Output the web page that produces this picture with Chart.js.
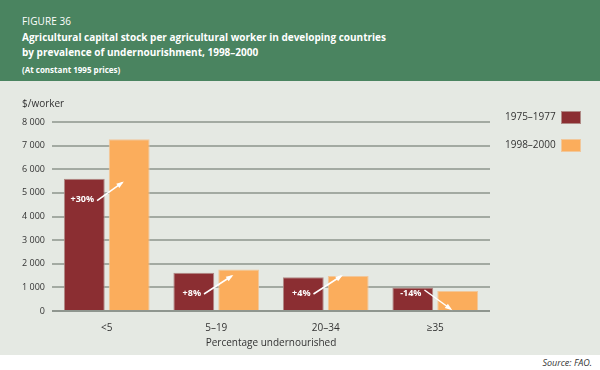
<!DOCTYPE html>
<html>
<head>
<meta charset="utf-8">
<script src="https://cdn.jsdelivr.net/npm/chart.js@4/dist/chart.umd.min.js"></script>
<style>
  body { margin: 0; width: 600px; height: 370px; background: #fff; font-family: "Open Sans", "DejaVu Sans", sans-serif; overflow: hidden; position: relative; }
  #header { position: absolute; left: 0; top: 0; width: 600px; height: 81px; background: #4a8460; color: #fff; }
  #header div { position: absolute; left: 22px; white-space: nowrap; }
  #fig { top: 14px; font-size: 10px; letter-spacing: 0.1px; }
  #t1 { top: 30px; font-size: 10px; font-weight: bold; }
  #t2 { top: 45px; font-size: 10px; font-weight: bold; }
  #sub { top: 64px; font-size: 8px; font-weight: bold; }
  #plot { position: absolute; left: 0; top: 81px; width: 600px; height: 274px; background: #e5e9e3; }
  #source { position: absolute; right: 8px; top: 356px; font-size: 9px; font-style: italic; color: #333; }
</style>
</head>
<body>
<div id="header">
  <div id="fig">FIGURE 36</div>
  <div id="t1">Agricultural capital stock per agricultural worker in developing countries</div>
  <div id="t2">by prevalence of undernourishment, 1998–2000</div>
  <div id="sub">(At constant 1995 prices)</div>
</div>
<div id="plot"><canvas id="chart" width="600" height="274"></canvas></div>
<div id="source">Source: FAO.</div>
<script>
const categories = ["<5", "5–19", "20–34", "≥35"];
const seriesNames = ["1975–1977", "1998–2000"];
const values1975 = [5600, 1620, 1430, 990];
const values1998 = [7270, 1760, 1480, 850];
const changeLabels = ["+30%", "+8%", "+4%", "-14%"];
const yTicks = [0, 1000, 2000, 3000, 4000, 5000, 6000, 7000, 8000];

const colors = ["#8b2e32", "#fbad5c"];
const borders = ["#b08a86", "#f1c79a"];

function fmt(v) {
    return String(v).replace(/\B(?=(\d{3})+(?!\d))/g, " ");
}

const extras = {
    id: "extras",
    afterDraw(chart) {
        const ctx = chart.ctx;
        ctx.save();
        // axis unit
        ctx.fillStyle = "#333";
        ctx.font = "10px 'Open Sans', sans-serif";
        ctx.textBaseline = "middle";
        ctx.textAlign = "left";
        ctx.fillText("$/worker", 22, 23);

        // legend
        seriesNames.forEach((name, i) => {
            const y = 36 + i * 28;
            ctx.fillStyle = "#333";
            ctx.font = "10px 'Open Sans', sans-serif";
            ctx.fillText(name, 505, y);
            ctx.fillStyle = colors[i];
            ctx.fillRect(561, y - 6, 20, 13);
            ctx.strokeStyle = borders[i];
            ctx.lineWidth = 1;
            ctx.strokeRect(561.5, y - 5.5, 19, 12);
        });

        // change arrows
        const m0 = chart.getDatasetMeta(0).data;
        const m1 = chart.getDatasetMeta(1).data;
        ctx.font = "bold 9px 'Open Sans', sans-serif";
        categories.forEach((c, i) => {
            const b0 = m0[i], b1 = m1[i];
            const ly = Math.min(b0.y + 21, b0.base - 17);
            const lx = b0.x - 2;
            ctx.fillStyle = "#fff";
            ctx.textAlign = "center";
            ctx.fillText(changeLabels[i], lx, ly);
            const up = values1998[i] >= values1975[i];
            const x1 = lx + ctx.measureText(changeLabels[i]).width / 2 + 3;
            const y1 = up ? ly + 1 : ly - 3;
            const x2 = b1.x - 7;
            const y2 = up ? y1 - 18 : y1 + 19;
            ctx.strokeStyle = "#fff";
            ctx.lineWidth = 1.5;
            ctx.beginPath();
            ctx.moveTo(x1, y1);
            ctx.lineTo(x2, y2);
            ctx.stroke();
            const ang = Math.atan2(y2 - y1, x2 - x1);
            ctx.beginPath();
            ctx.moveTo(x2 + 2 * Math.cos(ang), y2 + 2 * Math.sin(ang));
            ctx.lineTo(x2 - 6 * Math.cos(ang - 0.45), y2 - 6 * Math.sin(ang - 0.45));
            ctx.lineTo(x2 - 6 * Math.cos(ang + 0.45), y2 - 6 * Math.sin(ang + 0.45));
            ctx.closePath();
            ctx.fillStyle = "#fff";
            ctx.fill();
        });
        ctx.restore();
    }
};

new Chart(document.getElementById("chart").getContext("2d"), {
    type: "bar",
    data: {
        labels: categories,
        datasets: [
            { label: seriesNames[0], data: values1975, backgroundColor: colors[0], borderColor: borders[0], borderWidth: 1 },
            { label: seriesNames[1], data: values1998, backgroundColor: colors[1], borderColor: borders[1], borderWidth: 1 }
        ]
    },
    options: {
        responsive: false,
        animation: false,
        layout: { padding: { left: 0, right: 110, top: 41, bottom: 0 } },
        plugins: { legend: { display: false }, tooltip: { enabled: false } },
        datasets: { bar: { barPercentage: 0.91, categoryPercentage: 0.82 } },
        scales: {
            x: {
                grid: { display: false },
                border: { display: false },
                ticks: { color: "#333", font: { size: 10, family: "'Open Sans', sans-serif" }, padding: 3 },
                title: { display: true, text: "Percentage undernourished", color: "#333", font: { size: 10, family: "'Open Sans', sans-serif" }, padding: { top: 0, bottom: 6 } },
                afterFit: s => { s.height = 44; }
            },
            y: {
                min: 0,
                max: 8000,
                afterBuildTicks: s => { s.ticks = yTicks.map(v => ({ value: v })); },
                grid: {
                    color: ctx => ctx.tick && ctx.tick.value === 0 ? "#8f968f" : "#a3aaa2",
                    lineWidth: 2,
                    drawTicks: false
                },
                border: { display: false },
                ticks: { color: "#333", font: { size: 9, family: "'Open Sans', sans-serif" }, padding: 7, callback: v => fmt(v) },
                afterFit: s => { s.width = 52; }
            }
        }
    },
    plugins: [extras]
});
</script>
</body>
</html>
